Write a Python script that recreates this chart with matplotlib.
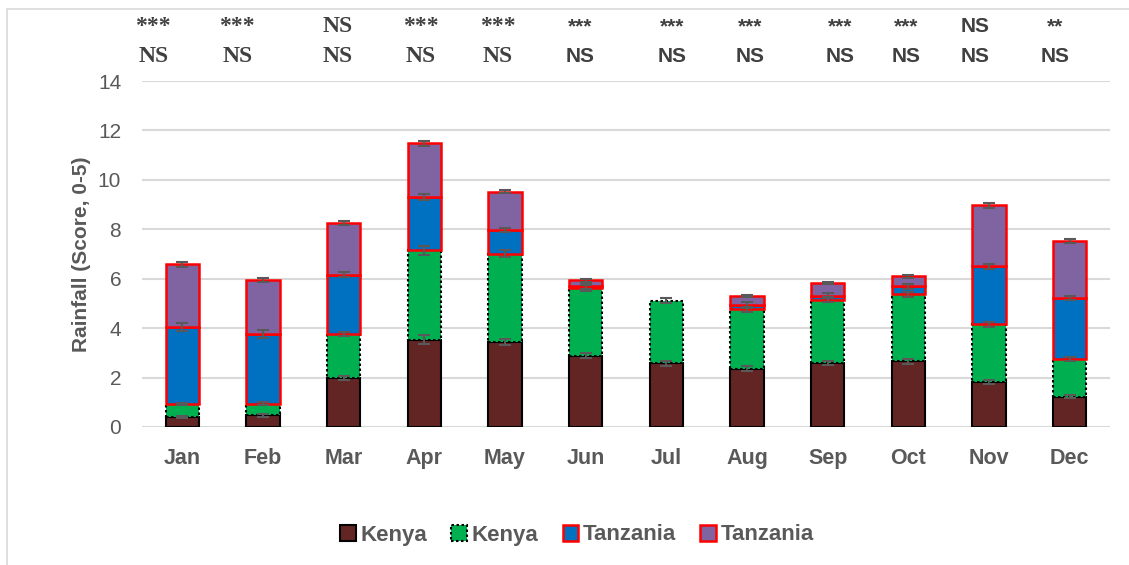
import matplotlib

matplotlib.use("Agg")
import matplotlib.pyplot as plt
import matplotlib.transforms as mtransforms
import numpy as np
from matplotlib.patches import Patch, Rectangle

# data (segment heights, stacked bottom -> top)
months = ["Jan", "Feb", "Mar", "Apr", "May", "Jun", "Jul", "Aug", "Sep", "Oct", "Nov", "Dec"]
kenya_a = [0.41, 0.47, 1.97, 3.53, 3.44, 2.88, 2.57, 2.36, 2.59, 2.66, 1.82, 1.22]
kenya_b = [0.51, 0.48, 1.79, 3.62, 3.58, 2.73, 2.54, 2.40, 2.55, 2.71, 2.33, 1.55]
tanz_a = [3.12, 2.82, 2.41, 2.17, 0.94, 0.08, 0.00, 0.16, 0.18, 0.33, 2.36, 2.46]
tanz_b = [2.54, 2.16, 2.10, 2.16, 1.56, 0.25, 0.00, 0.38, 0.50, 0.39, 2.46, 2.30]

err_kenya_a = [0.05, 0.05, 0.08, 0.18, 0.12, 0.10, 0.10, 0.10, 0.10, 0.10, 0.08, 0.06]
err_kenya_b = [0.05, 0.05, 0.08, 0.18, 0.15, 0.12, 0.10, 0.10, 0.10, 0.10, 0.10, 0.08]
err_tanz_a = [0.15, 0.15, 0.10, 0.12, 0.08, 0.12, np.nan, 0.12, 0.10, 0.10, 0.10, 0.08]
err_tanz_b = [0.10, 0.08, 0.08, 0.10, 0.06, 0.06, np.nan, 0.05, 0.05, 0.05, 0.10, 0.08]

sig_row1 = ["***", "***", "NS", "***", "***", "***", "***", "***", "***", "***", "NS", "**"]
sig_row2 = ["NS"] * 12

GRAY = "#595959"
GRID = "#D9D9D9"

plt.rcParams["font.family"] = ["Liberation Sans", "DejaVu Sans"]

fig = plt.figure(figsize=(11.29, 5.65), dpi=100)
ax = fig.add_axes([142 / 1129, 1 - 427 / 565, 968 / 1129, 346 / 565])

x = np.arange(len(months))
w = 0.41
series = [
    (kenya_a, err_kenya_a, "#632523", "black", "solid", 1.5, "Kenya"),
    (kenya_b, err_kenya_b, "#00B050", "black", (0, (1.2, 1.2)), 1.5, "Kenya"),
    (tanz_a, err_tanz_a, "#0070C0", "#FF0000", "solid", 1.8, "Tanzania"),
    (tanz_b, err_tanz_b, "#8064A2", "#FF0000", "solid", 1.8, "Tanzania"),
]

bottom = np.zeros(len(months))
handles = []
for vals, errs, fc, ec, ls, lw, lab in series:
    vals = np.array(vals)
    mask = vals > 0
    ax.bar(x[mask], vals[mask], w, bottom=bottom[mask], color=fc, edgecolor=ec,
           linestyle=ls, linewidth=lw, zorder=2)
    top = bottom + vals
    ax.errorbar(x, top, yerr=errs, fmt="none", ecolor=GRAY, elinewidth=1.5,
                capsize=4.5, capthick=1.5, zorder=4)
    bottom = top
    handles.append(Patch(facecolor=fc, edgecolor=ec, linestyle=ls, linewidth=lw, label=lab))

ax.set_xlim(-0.5, len(months) - 0.5)
ax.set_ylim(0, 14)
ax.set_yticks(range(0, 15, 2))
ax.set_xticks(x)
ax.set_xticklabels(months, fontsize=15.5, fontweight="bold", color=GRAY)
ax.tick_params(axis="y", labelsize=15, labelcolor=GRAY, length=0, pad=15)
ax.tick_params(axis="x", length=0, pad=15)
ax.yaxis.grid(True, color=GRID, linewidth=1.5, zorder=0)
ax.set_axisbelow(True)
for s in ax.spines.values():
    s.set_visible(False)
ax.set_ylabel("Rainfall (Score, 0-5)", fontsize=15, fontweight="bold", color=GRAY, labelpad=5)

# significance labels above each month
ann_x = [-0.36, 0.68, 1.92, 2.96, 3.91, 4.93, 6.07, 7.04, 8.15, 8.97, 9.83, 10.82]
trans = mtransforms.blended_transform_factory(ax.transData, fig.transFigure)
for i, (t1, t2) in enumerate(zip(sig_row1, sig_row2)):
    if i < 5:
        fam, fs = ["Liberation Serif", "DejaVu Serif"], 17
    else:
        fam, fs = ["Liberation Sans", "DejaVu Sans"], 15
    ax.text(ann_x[i], 1 - 27 / 565, t1, transform=trans, ha="center", va="center",
            family=fam, fontsize=fs, fontweight="bold", color="#404040")
    ax.text(ann_x[i], 1 - 56 / 565, t2, transform=trans, ha="center", va="center",
            family=fam, fontsize=fs, fontweight="bold", color="#404040")

# chart-area border (top and left edges visible)
fig.patches.append(Rectangle((7 / 1129, -0.1), 1.2, 1.1 - 9 / 565, transform=fig.transFigure,
                             fill=False, edgecolor=GRID, linewidth=1.2))

leg = fig.legend(handles=handles, loc="center", bbox_to_anchor=(0.511, 1 - 535 / 565), ncol=4,
                 frameon=False, handlelength=0.7, handleheight=0.7, handletextpad=0.2,
                 columnspacing=1.1, prop={"size": 16, "weight": "bold"})
for t in leg.get_texts():
    t.set_color(GRAY)

fig.savefig("out.png", dpi=100)
